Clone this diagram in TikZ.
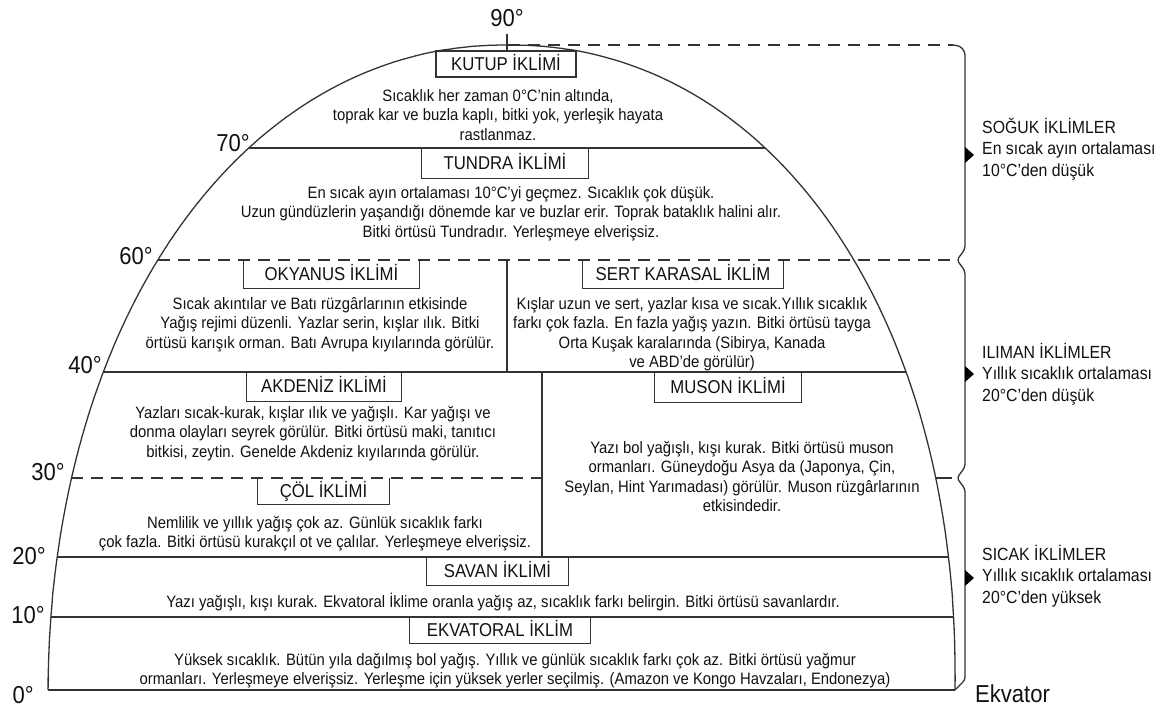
\documentclass[tikz,border=0pt]{standalone}
\usepackage{fontspec}
\setmainfont{Liberation Sans}
\newfontfamily\narrowfont{Liberation Sans}[FakeStretch=0.9,Ligatures=TeX]
\definecolor{ln}{HTML}{333333}
\definecolor{txt}{HTML}{111111}
\begin{document}
\begin{tikzpicture}[x=1pt,y=-1pt,
  body/.style={font=\narrowfont\fontsize{16.5pt}{19.5pt}\selectfont, align=center, inner sep=0pt, anchor=north, text=txt},
  ttl/.style={font=\narrowfont\fontsize{18.6pt}{20pt}\selectfont, inner sep=0pt, text height=12.8pt, text depth=0pt, text=txt},
  deg/.style={font=\narrowfont\fontsize{24.5pt}{28pt}\selectfont, inner sep=0pt, text=txt},
  side/.style={font=\narrowfont\fontsize{17.6pt}{21.5pt}\selectfont, align=left, inner sep=0pt, anchor=north west, text=txt},
  boxline/.style={draw=ln, line width=1.3pt},
  divider/.style={draw=ln, line width=1.4pt},
  dashdiv/.style={divider, dash pattern=on 12pt off 8pt},
  domeline/.style={draw=ln, line width=1.3pt},
  bracket/.style={draw=ln, line width=1.3pt, rounded corners=3pt},
  marker/.style={fill=black}
]
\useasboundingbox (0,0) rectangle (1168,709);

% dome
\draw[domeline] (48,690) -- (48.3,682)
  -- plot[domain=179.5:90.5, samples=179] ({501.5+6.5*pow(sin(\x),0.952381)-453.5*pow(-cos(\x),0.952381)}, {690-645*pow(sin(\x),0.952381)})
  -- plot[domain=89.5:0.5, samples=179] ({501.5+6.5*pow(sin(\x),0.952381)+453.5*pow(cos(\x),0.952381)}, {690-645*pow(sin(\x),0.952381)})
  -- (955,690);

% coordinates on the dome
\coordinate (l70) at (248.6,148); \coordinate (r70) at (765.3,148);
\coordinate (l60) at (157.7,260); \coordinate (e60) at (953,260);
\coordinate (l40) at (103.1,372); \coordinate (r40) at (906.3,372);
\coordinate (l30) at (71.3,478);  \coordinate (m30) at (542,478);
\coordinate (r30) at (935.5,478); \coordinate (e30) at (952,478);
\coordinate (l20) at (57,557);    \coordinate (r20) at (948.7,557);
\coordinate (l10) at (50.7,617);  \coordinate (r10) at (953.8,617);
\coordinate (l0) at (48,690);     \coordinate (r0) at (955,690);
\coordinate (apex) at (508,45);   \coordinate (e90) at (953,45);

% dividing lines
\draw[divider] (l70) -- (r70);
\draw[dashdiv] (l60) -- (e60);
\draw[divider] (l40) -- (r40);
\draw[dashdiv] (l30) -- (m30);
\draw[divider] (r30) -- (e30);
\draw[divider] (l20) -- (r20);
\draw[divider] (l10) -- (r10);
\draw[divider] (l0) -- (r0);
\draw[dashdiv] (apex) -- (e90);
\draw[divider] (507,260) -- (507,372);
\draw[divider] (542,372) -- (542,557);

% bracket on the right
\draw[bracket] (e90) -- (960,46) -- (965,52) -- (965,249) -- (957,260) -- (965,271)
  -- (965,467) -- (957,478) -- (965,489) -- (965,680) -- (r0);
\fill[marker] (965,147) -- (974,155) -- (965,163) -- cycle;
\fill[marker] (965,366) -- (974,374) -- (965,382) -- cycle;
\fill[marker] (965,570) -- (974,578) -- (965,586) -- cycle;

% degree labels
\node[deg, anchor=base] (d90) at (507,27) {90°};
\draw[divider, line width=1.1pt] (507,34) -- (507,51);
\node[deg, anchor=base east] (d70) at (250,151) {70°};
\node[deg, anchor=base east] (d60) at (153,264) {60°};
\node[deg, anchor=base east] (d40) at (102,373) {40°};
\node[deg, anchor=base east] (d30) at (65,480) {30°};
\node[deg, anchor=base east] (d20) at (46,564) {20°};
\node[deg, anchor=base east] (d10) at (45,623) {10°};
\node[deg, anchor=base east] (d0) at (34,703) {0°};
\node[deg, anchor=base west] (ekv) at (975,702) {Ekvator};

% title boxes
\node[ttl, minimum width=140pt, minimum height=26pt, boxline] (kutup) at (506,64) {KUTUP İKLİMİ};
\node[ttl, minimum width=166pt, minimum height=30pt] (tundra) at (505,163) {TUNDRA İKLİMİ};
\node[ttl, minimum width=175pt, minimum height=28pt] (okyanus) at (331.5,274) {OKYANUS İKLİMİ};
\node[ttl, minimum width=200pt, minimum height=28pt] (sert) at (683,274) {SERT KARASAL İKLİM};
\node[ttl, minimum width=154pt, minimum height=29pt] (akdeniz) at (324,386.5) {AKDENİZ İKLİMİ};
\node[ttl, minimum width=146pt, minimum height=30pt] (muson) at (728,387) {MUSON İKLİMİ};
\node[ttl, minimum width=131pt, minimum height=26pt] (col) at (323.5,491) {ÇÖL İKLİMİ};
\node[ttl, minimum width=141pt, minimum height=28pt] (savan) at (497.5,571) {SAVAN İKLİMİ};
\node[ttl, minimum width=180pt, minimum height=26pt] (ekvatoral) at (500,630) {EKVATORAL İKLİM};
\foreach \b in {tundra,okyanus,sert,akdeniz,muson,col,savan,ekvatoral}{
  \draw[boxline] (\b.north west) |- (\b.south east) -- (\b.north east);
}

% descriptions
\node[body] (tKutup) at (498,87.35) {\strut Sıcaklık her zaman 0°C'nin altında,\\toprak kar ve buzla kaplı, bitki yok, yerleşik hayata\\rastlanmaz.};
\node[body] (tTundra) at (511,184.35) {\strut En sıcak ayın ortalaması 10°C'yi geçmez. Sıcaklık çok düşük.\\Uzun gündüzlerin yaşandığı dönemde kar ve buzlar erir. Toprak bataklık halini alır.\\Bitki örtüsü Tundradır. Yerleşmeye elverişsiz.};
\node[body] (tOkyanus) at (320,295.35) {\strut Sıcak akıntılar ve Batı rüzgârlarının etkisinde\\Yağış rejimi düzenli. Yazlar serin, kışlar ılık. Bitki\\örtüsü karışık orman. Batı Avrupa kıyılarında görülür.};
\node[body] (tSert) at (692,295.35) {\strut Kışlar uzun ve sert, yazlar kısa ve sıcak.Yıllık sıcaklık\\farkı çok fazla. En fazla yağış yazın. Bitki örtüsü tayga\\Orta Kuşak karalarında (Sibirya, Kanada\\ve ABD'de görülür)};
\node[body] (tAkdeniz) at (313,404.35) {\strut Yazları sıcak-kurak, kışlar ılık ve yağışlı. Kar yağışı ve\\donma olayları seyrek görülür. Bitki örtüsü maki, tanıtıcı\\bitkisi, zeytin. Genelde Akdeniz kıyılarında görülür.};
\node[body] (tMuson) at (742,439.35) {\strut Yazı bol yağışlı, kışı kurak. Bitki örtüsü muson\\ormanları. Güneydoğu Asya da (Japonya, Çin,\\Seylan, Hint Yarımadası) görülür. Muson rüzgârlarının\\etkisindedir.};
\node[body] (tCol) at (315,514.35) {\strut Nemlilik ve yıllık yağış çok az. Günlük sıcaklık farkı\\çok fazla. Bitki örtüsü kurakçıl ot ve çalılar. Yerleşmeye elverişsiz.};
\node[body] (tSavan) at (503,593.35) {\strut Yazı yağışlı, kışı kurak. Ekvatoral İklime oranla yağış az, sıcaklık farkı belirgin. Bitki örtüsü savanlardır.};
\node[body] (tEkv) at (515,651.35) {\strut Yüksek sıcaklık. Bütün yıla dağılmış bol yağış. Yıllık ve günlük sıcaklık farkı çok az. Bitki örtüsü yağmur\\ormanları. Yerleşmeye elverişsiz. Yerleşme için yüksek yerler seçilmiş. (Amazon ve Kongo Havzaları, Endonezya)};

% side groups
\node[side] (soguk) at (982,118) {\strut SOĞUK İKLİMLER\\En sıcak ayın ortalaması\\10°C'den düşük};
\node[side] (iliman) at (982,343) {\strut ILIMAN İKLİMLER\\Yıllık sıcaklık ortalaması\\20°C'den düşük};
\node[side] (sicak) at (982,545) {\strut SICAK İKLİMLER\\Yıllık sıcaklık ortalaması\\20°C'den yüksek};
\end{tikzpicture}
\end{document}
